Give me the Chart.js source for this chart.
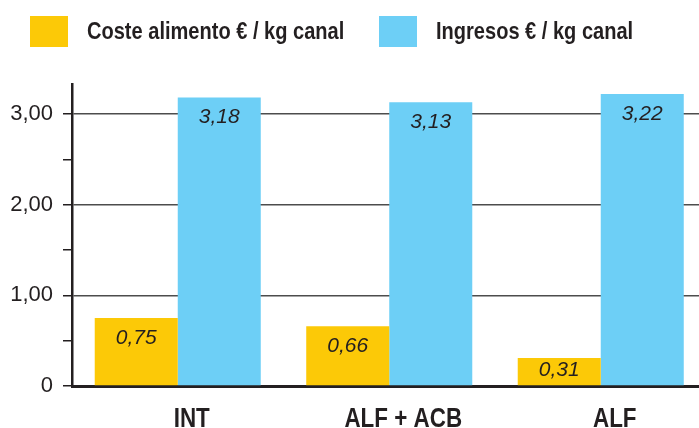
<!DOCTYPE html>
<html>
<head>
<meta charset="utf-8">
<script src="https://cdn.jsdelivr.net/npm/chart.js@4.4.0/dist/chart.umd.min.js"></script>
<style>
  html, body { margin: 0; padding: 0; background: #fff; overflow: hidden; }
  canvas { display: block; }
</style>
</head>
<body>
<canvas id="myChart" width="708" height="428"></canvas>
<script>
var categories = ["INT", "ALF + ACB", "ALF"];
var costeAlimento = [0.75, 0.66, 0.31];
var ingresos = [3.18, 3.13, 3.22];
var seriesNames = ["Coste alimento € / kg canal", "Ingresos € / kg canal"];
var seriesColors = ["#fcc907", "#6dcff6"];
var yTickLabels = { 0: "0", 1: "1,00", 2: "2,00", 3: "3,00" };

var textColor = "#231f20";
var sans = "'Liberation Sans', Arial, sans-serif";

// no condensed face installed, so squeeze the bold text horizontally
function narrowText(c, text, x, y, align, squeeze) {
  c.save();
  c.translate(x, y);
  c.scale(squeeze, 1);
  c.textAlign = align;
  c.fillText(text, 0, 0);
  c.restore();
}

// legend drawn by hand so box / text spacing matches the print
var legendPlugin = {
  id: "printLegend",
  afterDraw: function (chart) {
    var c = chart.ctx;
    var starts = [30, 379];
    c.save();
    c.font = "bold 24px " + sans;
    c.textBaseline = "alphabetic";
    chart.data.datasets.forEach(function (ds, i) {
      c.fillStyle = ds.backgroundColor;
      c.fillRect(starts[i], 16, 38, 31);
      c.fillStyle = textColor;
      narrowText(c, ds.label, starts[i] + 57, 39, "left", 0.835);
    });
    c.restore();
  },
};

// category names under the axis, slightly right of the bar pair as printed
var categoryPlugin = {
  id: "categoryLabels",
  afterDraw: function (chart) {
    var c = chart.ctx;
    var xs = chart.scales.x;
    c.save();
    c.font = "bold 27px " + sans;
    c.fillStyle = textColor;
    c.textBaseline = "alphabetic";
    chart.data.labels.forEach(function (lab, i) {
      narrowText(c, lab, xs.getPixelForTick(i) + 14, 427, "center", 0.83);
    });
    c.restore();
  },
};

// italic values inside the top of each bar
var valuePlugin = {
  id: "barValues",
  afterDatasetsDraw: function (chart) {
    var c = chart.ctx;
    c.save();
    c.font = "italic 21px " + sans;
    c.fillStyle = textColor;
    c.textAlign = "center";
    c.textBaseline = "middle";
    chart.data.datasets.forEach(function (ds, i) {
      chart.getDatasetMeta(i).data.forEach(function (bar, j) {
        var y = Math.min(bar.y + 20, (bar.y + bar.base) / 2 - 1);
        c.fillText(ds.data[j].toFixed(2).replace(".", ","), bar.x, y);
      });
    });
    c.restore();
  },
};

var ctx = document.getElementById("myChart").getContext("2d");
var myChart = new Chart(ctx, {
  type: "bar",
  data: {
    labels: categories,
    datasets: [
      {
        label: seriesNames[0],
        data: costeAlimento,
        backgroundColor: seriesColors[0],
        borderWidth: 0,
      },
      {
        label: seriesNames[1],
        data: ingresos,
        backgroundColor: seriesColors[1],
        borderWidth: 0,
      },
    ],
  },
  options: {
    responsive: false,
    animation: false,
    events: [],
    layout: { padding: { top: 84, left: 0, right: 1.5, bottom: 0 } },
    datasets: {
      bar: { barPercentage: 1, categoryPercentage: 0.785 },
    },
    plugins: {
      legend: { display: false },
      tooltip: { enabled: false },
    },
    scales: {
      x: {
        grid: { display: false, drawTicks: false },
        border: { display: true, color: textColor, width: 3 },
        ticks: { display: false },
        afterFit: function (scale) {
          scale.height = 42;
        },
      },
      y: {
        min: 0,
        max: 3.33,
        border: { display: true, color: textColor, width: 2.5 },
        grid: {
          color: function (c) {
            var v = c.tick ? c.tick.value : 0;
            return v > 0 && v % 1 === 0 ? "#4d4d4d" : "rgba(0,0,0,0)";
          },
          tickColor: textColor,
          lineWidth: 1.5,
          tickLength: 9,
        },
        ticks: {
          stepSize: 0.5,
          padding: 10,
          color: textColor,
          font: { family: sans, size: 22 },
          callback: function (v) {
            return v in yTickLabels ? yTickLabels[v] : "";
          },
        },
        afterBuildTicks: function (scale) {
          scale.ticks = scale.ticks.filter(function (t) {
            return Math.abs(t.value * 2 - Math.round(t.value * 2)) < 1e-9;
          });
        },
        afterFit: function (scale) {
          scale.width = 72;
        },
      },
    },
  },
  plugins: [legendPlugin, categoryPlugin, valuePlugin],
});
</script>
</body>
</html>
